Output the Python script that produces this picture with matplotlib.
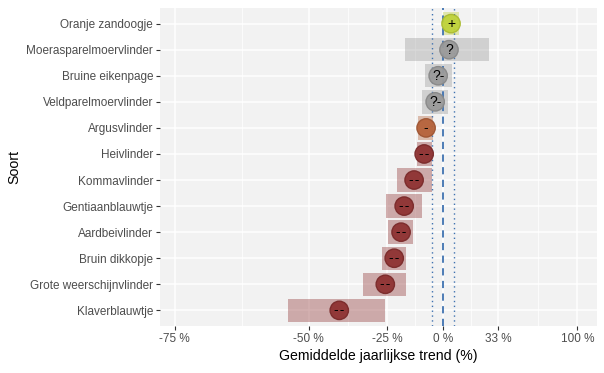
import numpy as np
import matplotlib
matplotlib.use("Agg")
import matplotlib.pyplot as plt

plt.rcParams['font.family'] = ['Liberation Sans', 'DejaVu Sans']

# species, top to bottom
soorten = ['Oranje zandoogje', 'Moerasparelmoervlinder', 'Bruine eikenpage',
           'Veldparelmoervlinder', 'Argusvlinder', 'Heivlinder', 'Kommavlinder',
           'Gentiaanblauwtje', 'Aardbeivlinder', 'Bruin dikkopje',
           'Grote weerschijnvlinder', 'Klaverblauwtje']
# mean yearly trend (%) and confidence interval (%)
trend = [4.2, 3.1, -2.5, -4.0, -8.4, -9.3, -13.9, -18.2, -19.5, -22.3, -25.8, -41.5]
ci_lo = [0.0, -17.8, -8.9, -10.3, -12.1, -12.5, -21.1, -25.5, -24.7, -27.0, -33.8, -55.0]
ci_hi = [8.6, 26.8, 4.7, 2.6, -5.0, -5.5, -5.5, -10.3, -14.3, -17.4, -17.4, -25.8]
klasse = ['+', '?', '?-', '?-', '-', '--', '--', '--', '--', '--', '--', '--']

tick_pct = [-75, -50, -25, 0, 33, 100]
tick_lab = ['-75 %', '-50 %', '-25 %', '0 %', '33 %', '100 %']
ref_lines = [-5.5, 5.8]

kleur = {'+': '#bfd23a', '?': '#9a9a9a', '?-': '#9a9a9a',
         '-': '#b5633b', '--': '#8e3232'}
rand = {'+': '#aabb30', '?': '#888888', '?-': '#888888',
        '-': '#9e5533', '--': '#7a2a2a'}

def tr(p):
    return np.log(1 + np.asarray(p, dtype=float) / 100)

fig = plt.figure(figsize=(6.04, 3.73), dpi=100)
ax = fig.add_axes([160/604, 1 - 326/373, (597-160)/604, (326-8)/373])
ax.set_facecolor('#f2f2f2')

n = len(soorten)
y = np.arange(n)[::-1] + 1
cols = [kleur[k] for k in klasse]
edges = [rand[k] for k in klasse]

# grid
xt = tr(tick_pct)
minor = (xt[:-1] + xt[1:]) / 2
for v in minor:
    ax.axvline(v, color='white', lw=0.5, zorder=0)
for v in xt:
    ax.axvline(v, color='white', lw=1.1, zorder=0)
for v in y:
    ax.axhline(v, color='white', lw=1.1, zorder=0)

lo = tr(ci_lo)
hi = tr(ci_hi)
ax.barh(y, hi - lo, left=lo, height=0.9, color=cols, alpha=0.38, lw=0, zorder=1)

ax.axvline(0, color='#3f72b0', lw=1.3, ls=(0, (4, 3)), zorder=2)
for r in ref_lines:
    ax.axvline(tr(r), color='#3f72b0', lw=1.0, ls=(0, (1, 2.5)), zorder=2)

xp = tr(trend)
ax.scatter(xp, y, s=175, c=cols, alpha=0.95, edgecolors=edges, linewidths=1.0, zorder=3)
for xi, yi, k in zip(xp, y, klasse):
    # a hair space keeps the two dashes apart at this size
    ax.text(xi, yi, k.replace('--', '-\u200a-'), ha='center', va='center',
            fontsize=10, color='black', zorder=4)

ax.set_xlim(-1.462, 0.795)
ax.set_ylim(0.4, n + 0.6)
ax.set_xticks(xt)
ax.set_xticklabels(tick_lab)
ax.set_yticks(y)
ax.set_yticklabels(soorten)
ax.tick_params(axis='both', length=3, width=0.8, color='#333333', labelsize=8.5,
               labelcolor='#4d4d4d', pad=2)
for s in ax.spines.values():
    s.set_visible(False)
ax.set_xlabel('Gemiddelde jaarlijkse trend (%)', fontsize=10.2, labelpad=3)
ax.set_ylabel('Soort', fontsize=10.2)
ax.yaxis.set_label_coords((21 - 160) / 437, 0.5)

fig.savefig('out.png', dpi=100)
